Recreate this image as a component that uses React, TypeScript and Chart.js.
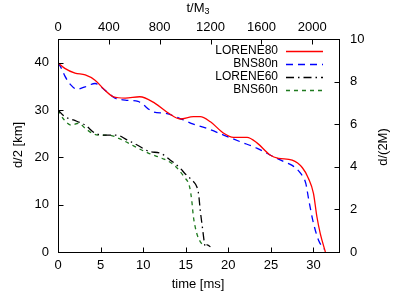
import React, { useEffect, useRef } from 'react';
import { Chart, registerables } from 'chart.js';

Chart.register(...registerables);

const FONT = '"Liberation Sans", Arial, sans-serif';

// time [ms] and d/2 [km] for each run
const lorene80Time = [0, 0.8, 2.0, 3.2, 4.35, 5.5, 6.5, 7.9, 9.6, 11.4, 13.0, 14.35, 15.9, 16.7, 17.9, 19.45, 20.6, 22.2, 23.4, 24.9, 25.9, 27.5, 28.7, 29.4, 30.0, 30.4, 30.8, 31.4];
const lorene80Dist = [40.0, 38.8, 37.8, 37.4, 36.3, 34.2, 32.8, 32.5, 32.8, 31.4, 29.3, 28.1, 28.6, 28.6, 27.5, 25.1, 24.2, 24.2, 23.0, 20.5, 19.8, 19.4, 17.8, 15.6, 12.4, 7.5, 3.9, 0];

const bns80Time = [0, 0.4, 0.8, 1.5, 2.2, 3.2, 4.35, 5.5, 6.7, 7.9, 9.4, 11.2, 12.6, 14.35, 15.9, 17.5, 19.45, 21.4, 23.4, 24.9, 26.5, 27.5, 28.5, 29.1, 29.45, 30.0, 30.6, 31.2];
const bns80Dist = [40.0, 38.8, 37.2, 35.3, 34.4, 34.9, 35.6, 34.2, 32.5, 32.1, 31.8, 29.6, 29.3, 28.2, 27.0, 26.1, 24.7, 23.3, 21.9, 20.5, 19.1, 18.3, 16.6, 14.5, 11.0, 6.1, 2.5, 0.6];

const lorene60Time = [0, 0.8, 1.8, 3.2, 4.35, 5.5, 6.9, 8.1, 9.3, 10.8, 12.0, 13.2, 14.35, 14.9, 15.5, 15.9, 16.3, 16.5, 16.7, 17.0, 17.2, 17.3, 17.5, 17.9];
const lorene60Dist = [30.0, 28.6, 27.9, 26.8, 25.1, 24.7, 24.7, 23.7, 22.6, 21.2, 20.9, 19.4, 17.7, 16.6, 15.6, 14.9, 13.8, 12.4, 8.9, 4.6, 1.8, 1.0, 1.5, 1.1];

const bns60Time = [0, 0.6, 1.6, 2.4, 3.4, 4.7, 5.9, 7.5, 9.1, 10.6, 12.2, 13.4, 14.2, 14.8, 15.45, 15.7, 15.9, 16.3, 16.7, 17.0];
const bns60Dist = [30.0, 28.2, 26.8, 27.2, 25.8, 24.7, 24.7, 23.7, 22.2, 20.9, 19.8, 18.7, 17.3, 15.9, 13.8, 11.0, 7.5, 3.9, 2.2, 1.5];

const seriesLabels = ['LORENE80', 'BNS80n', 'LORENE60', 'BNS60n'];
const seriesColors = ['#ff0000', '#0000ff', '#000000', '#1f7a1f'];
const seriesDashes: number[][] = [[], [7, 5], [8, 4, 1.5, 4], [4, 4]];

const timeTicks = [0, 5, 10, 15, 20, 25, 30];
const topTicks = [0, 400, 800, 1200, 1600, 2000];
const leftTicks = [0, 10, 20, 30, 40];
const rightTicks = [0, 2, 4, 6, 8, 10];

const timeMax = 33;
const topMax = 2210;
const distMax = 45;
const ratioMax = 10;

function toPoints(t: number[], d: number[]) {
  return t.map((x, i) => ({ x, y: d[i] }));
}

const decorPlugin = {
  id: 'decor',
  afterDatasetsDraw(chart: any) {
    const { ctx, chartArea: a, scales } = chart;
    ctx.save();
    const L = Math.round(a.left) + 0.5;
    const R = Math.round(a.right) + 0.5;
    const T = Math.round(a.top) + 0.5;
    const B = Math.round(a.bottom) + 0.5;
    ctx.strokeStyle = '#000';
    ctx.lineWidth = 1;
    ctx.setLineDash([]);
    ctx.strokeRect(L, T, R - L, B - T);
    const tl = 5;
    ctx.beginPath();
    timeTicks.forEach((v) => {
      const x = Math.round(scales.x.getPixelForValue(v)) + 0.5;
      ctx.moveTo(x, B); ctx.lineTo(x, B - tl);
    });
    topTicks.forEach((v) => {
      const x = Math.round(scales.x2.getPixelForValue(v)) + 0.5;
      ctx.moveTo(x, T); ctx.lineTo(x, T + tl);
    });
    leftTicks.forEach((v) => {
      const y = Math.round(scales.y.getPixelForValue(v)) + 0.5;
      ctx.moveTo(L, y); ctx.lineTo(L + tl, y);
    });
    rightTicks.forEach((v) => {
      const y = Math.round(scales.y2.getPixelForValue(v)) + 0.5;
      ctx.moveTo(R, y); ctx.lineTo(R - tl, y);
    });
    ctx.stroke();

    // legend
    const rows = [51, 64, 77, 90];
    ctx.font = `12px ${FONT}`;
    ctx.fillStyle = '#000';
    ctx.textAlign = 'right';
    ctx.textBaseline = 'middle';
    seriesLabels.forEach((lab, i) => {
      ctx.fillText(lab, 278, rows[i]);
      ctx.beginPath();
      ctx.strokeStyle = seriesColors[i];
      ctx.lineWidth = 1.3;
      ctx.setLineDash(seriesDashes[i]);
      ctx.moveTo(286, rows[i] + 0.5);
      ctx.lineTo(323, rows[i] + 0.5);
      ctx.stroke();
    });
    ctx.setLineDash([]);

    // axis titles
    ctx.fillStyle = '#000';
    ctx.font = `13px ${FONT}`;
    ctx.textAlign = 'center';
    ctx.fillText('time [ms]', 198, 284);
    const main = 't/M';
    const wMain = ctx.measureText(main).width;
    ctx.font = `9px ${FONT}`;
    const wSub = ctx.measureText('3').width;
    const x0 = 198 - (wMain + wSub) / 2;
    ctx.textAlign = 'left';
    ctx.font = `13px ${FONT}`;
    ctx.fillText(main, x0, 8);
    ctx.font = `9px ${FONT}`;
    ctx.fillText('3', x0 + wMain, 12);

    ctx.font = `13px ${FONT}`;
    ctx.textAlign = 'center';
    ctx.save();
    ctx.translate(18, 145);
    ctx.rotate(-Math.PI / 2);
    ctx.fillText('d/2 [km]', 0, 0);
    ctx.restore();
    ctx.save();
    ctx.translate(383, 147);
    ctx.rotate(-Math.PI / 2);
    ctx.fillText('d/(2M)', 0, 0);
    ctx.restore();
    ctx.restore();
  },
};

export default function App() {
  const ref = useRef<HTMLCanvasElement>(null);
  useEffect(() => {
    if (!ref.current) return;
    const tickFont = { family: FONT, size: 13 };
    const noGrid = { display: false, drawTicks: false, tickLength: 0 };
    const plain = (v: any) => String(v);
    const chart = new Chart(ref.current, {
      type: 'line',
      data: {
        datasets: [
          { label: seriesLabels[0], data: toPoints(lorene80Time, lorene80Dist) },
          { label: seriesLabels[1], data: toPoints(bns80Time, bns80Dist) },
          { label: seriesLabels[2], data: toPoints(lorene60Time, lorene60Dist) },
          { label: seriesLabels[3], data: toPoints(bns60Time, bns60Dist) },
        ].map((d, i) => ({
          ...d,
          borderColor: seriesColors[i],
          backgroundColor: seriesColors[i],
          borderDash: seriesDashes[i],
          borderWidth: 1.3,
          pointRadius: 0,
          fill: false,
          cubicInterpolationMode: 'monotone' as const,
          xAxisID: 'x',
          yAxisID: 'y',
        })),
      },
      options: {
        animation: false,
        responsive: false,
        events: [],
        layout: { padding: 0 },
        plugins: { legend: { display: false }, tooltip: { enabled: false } },
        scales: {
          x: {
            type: 'linear', position: 'bottom', min: 0, max: timeMax,
            ticks: { stepSize: 5, includeBounds: false, font: tickFont, color: '#000', padding: 6, maxRotation: 0, callback: plain },
            grid: noGrid, border: { display: false },
            afterFit: (s: any) => { s.height = 43; },
          },
          x2: {
            type: 'linear', position: 'top', min: 0, max: topMax,
            ticks: { stepSize: 400, includeBounds: false, font: tickFont, color: '#000', padding: 4, maxRotation: 0, callback: plain },
            grid: noGrid, border: { display: false },
            afterFit: (s: any) => { s.height = 39; },
          },
          y: {
            type: 'linear', position: 'left', min: 0, max: distMax,
            ticks: { stepSize: 10, includeBounds: false, font: tickFont, color: '#000', padding: 9, callback: plain },
            grid: noGrid, border: { display: false },
            afterFit: (s: any) => { s.width = 58; },
          },
          y2: {
            type: 'linear', position: 'right', min: 0, max: ratioMax,
            ticks: { stepSize: 2, includeBounds: false, font: tickFont, color: '#000', padding: 11, callback: plain },
            grid: noGrid, border: { display: false },
            afterFit: (s: any) => { s.width = 76; },
          },
        },
      } as any,
      plugins: [decorPlugin],
    });
    return () => chart.destroy();
  }, []);
  return (
    <div style={{ position: 'fixed', left: 0, top: 0, width: 415, height: 295, background: '#fff' }}>
      <canvas ref={ref} width={415} height={295} style={{ width: 415, height: 295, display: 'block' }} />
    </div>
  );
}
